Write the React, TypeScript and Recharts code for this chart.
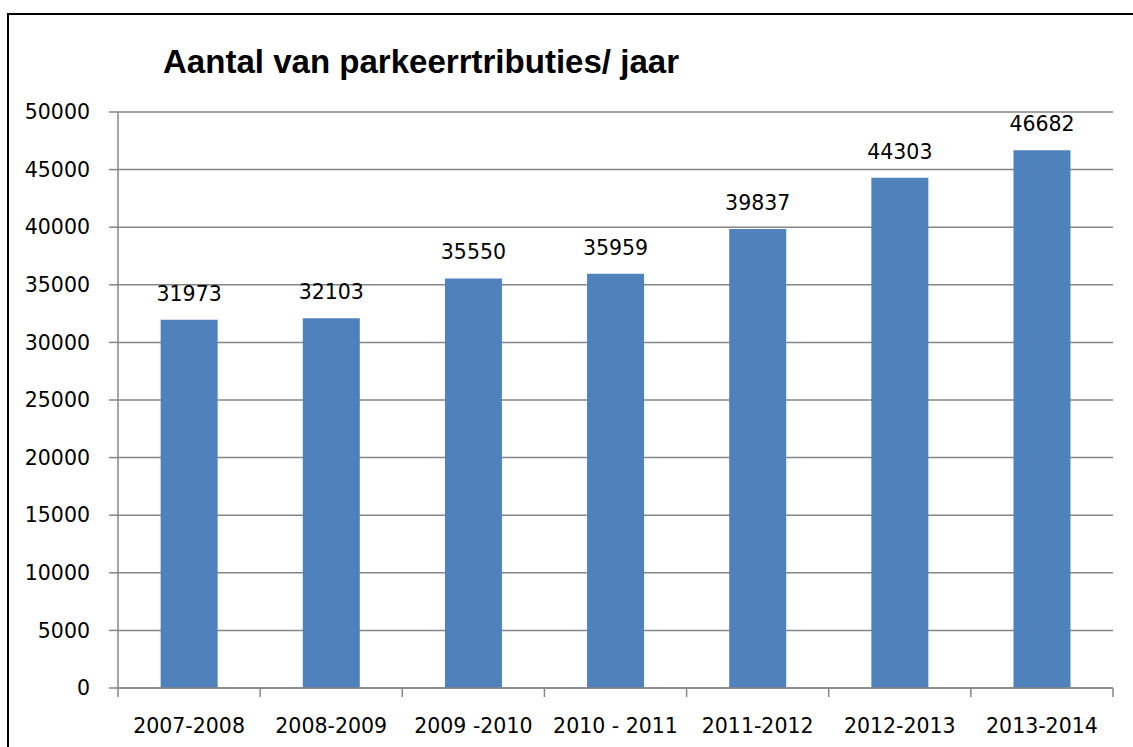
import React from "react";
import { BarChart, Bar, XAxis, YAxis, CartesianGrid, LabelList } from "recharts";

const seasons = ["2007-2008", "2008-2009", "2009 -2010", "2010 - 2011", "2011-2012", "2012-2013", "2013-2014"];
const permits = [31973, 32103, 35550, 35959, 39837, 44303, 46682];
const yTicks = [0, 5000, 10000, 15000, 20000, 25000, 30000, 35000, 40000, 45000, 50000];
const title = "Aantal van parkeerrtributies/ jaar";

const data = seasons.map((s, i) => ({ season: s, value: permits[i] }));

const AXIS = "#868686";
const BAR = "#4F81BD";
const FONT = "'DejaVu Sans', sans-serif";
const FS = 20.5;
const X_TICK_SIZE = 9;
const X_TICK_MARGIN = 21;

const XTick = (props: any) => {
  const { x, y, payload, index, visibleTicksCount } = props;
  const half = payload?.offset ?? 0;
  const axisY = y - X_TICK_SIZE - X_TICK_MARGIN;
  return (
    <g>
      <line x1={x - half} x2={x - half} y1={axisY} y2={axisY + X_TICK_SIZE} stroke={AXIS} strokeWidth={1.5} />
      {index === visibleTicksCount - 1 && (
        <line x1={x + half} x2={x + half} y1={axisY} y2={axisY + X_TICK_SIZE} stroke={AXIS} strokeWidth={1.5} />
      )}
      <text x={x} y={y} dy="0.71em" textAnchor="middle" fontFamily={FONT} fontSize={FS} fill="#000">
        {payload.value}
      </text>
    </g>
  );
};

export default function App() {
  return (
    <div style={{ position: "absolute", left: 0, top: 0, width: 1133, height: 747, background: "#fff", overflow: "hidden" }}>
      <div
        style={{
          position: "absolute",
          left: 7,
          top: 13,
          width: 1200,
          height: 800,
          border: "2px solid #000",
          boxSizing: "border-box",
        }}
      />
      <div style={{ position: "absolute", left: 0, top: 0 }}>
        <BarChart
          width={1133}
          height={747}
          data={data}
          margin={{ top: 112, right: 20, bottom: 0, left: 0 }}
          barCategoryGap="30%"
        >
          <CartesianGrid vertical={false} stroke={AXIS} strokeWidth={1.5} />
          <XAxis
            dataKey="season"
            height={59}
            tickLine={false}
            tickSize={X_TICK_SIZE}
            tickMargin={X_TICK_MARGIN}
            axisLine={{ stroke: AXIS, strokeWidth: 1.5 }}
            tick={<XTick />}
            interval={0}
          />
          <YAxis
            width={118}
            domain={[0, 50000]}
            ticks={yTicks}
            interval={0}
            tickSize={9}
            tickMargin={19}
            tickLine={{ stroke: AXIS, strokeWidth: 1.5 }}
            axisLine={{ stroke: AXIS, strokeWidth: 1.5 }}
            tick={{ fill: "#000", fontFamily: FONT, fontSize: FS }}
          />
          <Bar dataKey="value" fill={BAR} isAnimationActive={false}>
            <LabelList dataKey="value" position="top" offset={19} fill="#000" fontFamily={FONT} fontSize={FS} />
          </Bar>
        </BarChart>
      </div>
      <svg style={{ position: "absolute", left: 0, top: 0, pointerEvents: "none" }} width={1133} height={747}>
        <text
          x={163}
          y={73}
          fontFamily="'Liberation Sans Narrow', 'Liberation Sans', sans-serif"
          fontWeight="bold"
          fontSize={34}
          textLength={516}
          lengthAdjust="spacingAndGlyphs"
          fill="#000"
        >
          {title}
        </text>
      </svg>
    </div>
  );
}
